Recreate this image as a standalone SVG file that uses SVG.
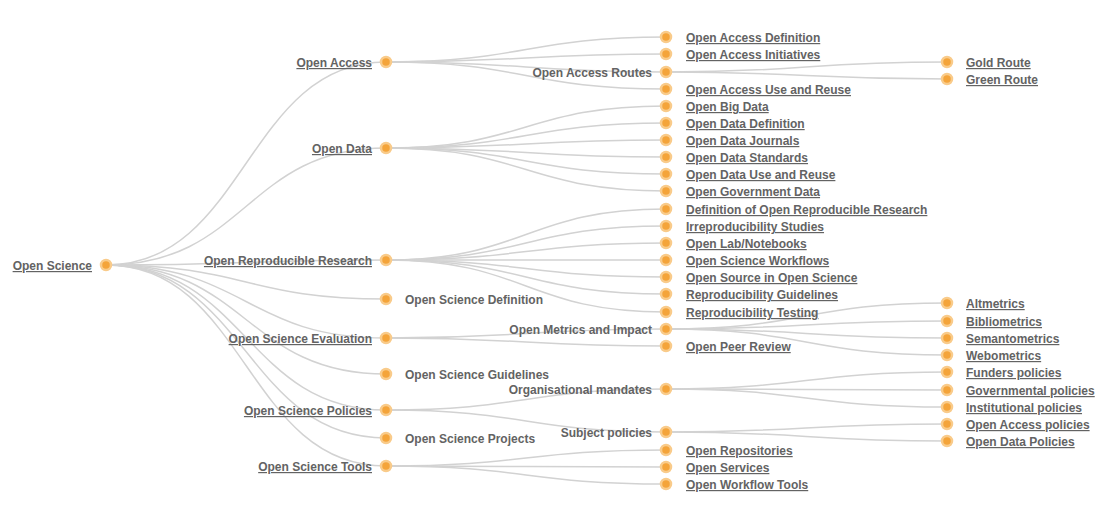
<svg xmlns="http://www.w3.org/2000/svg" width="1103" height="524" viewBox="0 0 1103 524">
<style>
.link{fill:none;stroke:#d2d2d2;stroke-width:1.5}
.node circle{fill:#f4a43a;stroke:#f9cb8a;stroke-width:2.5}
.node text{font-family:"Liberation Sans",Arial,sans-serif;font-size:12px;font-weight:bold;fill:#636363}
.l{text-anchor:end}
.u{text-decoration:underline}
</style>
<rect width="1103" height="524" fill="#ffffff"/>
<g id="connectors">
<path class="link" d="M106,265C246,265 246,62 386,62"/>
<path class="link" d="M106,265C246,265 246,148 386,148"/>
<path class="link" d="M106,265C246,265 246,260 386,260"/>
<path class="link" d="M106,265C246,265 246,299 386,299"/>
<path class="link" d="M106,265C246,265 246,338 386,338"/>
<path class="link" d="M106,265C246,265 246,374 386,374"/>
<path class="link" d="M106,265C246,265 246,410 386,410"/>
<path class="link" d="M106,265C246,265 246,438 386,438"/>
<path class="link" d="M106,265C246,265 246,466 386,466"/>
<path class="link" d="M386,62C526,62 526,37 666,37"/>
<path class="link" d="M386,62C526,62 526,54 666,54"/>
<path class="link" d="M386,62C526,62 526,72 666,72"/>
<path class="link" d="M386,62C526,62 526,89 666,89"/>
<path class="link" d="M386,148C526,148 526,106 666,106"/>
<path class="link" d="M386,148C526,148 526,123 666,123"/>
<path class="link" d="M386,148C526,148 526,140 666,140"/>
<path class="link" d="M386,148C526,148 526,157 666,157"/>
<path class="link" d="M386,148C526,148 526,174 666,174"/>
<path class="link" d="M386,148C526,148 526,191 666,191"/>
<path class="link" d="M386,260C526,260 526,209 666,209"/>
<path class="link" d="M386,260C526,260 526,226 666,226"/>
<path class="link" d="M386,260C526,260 526,243 666,243"/>
<path class="link" d="M386,260C526,260 526,260 666,260"/>
<path class="link" d="M386,260C526,260 526,277 666,277"/>
<path class="link" d="M386,260C526,260 526,294 666,294"/>
<path class="link" d="M386,260C526,260 526,312 666,312"/>
<path class="link" d="M386,338C526,338 526,329 666,329"/>
<path class="link" d="M386,338C526,338 526,346 666,346"/>
<path class="link" d="M386,410C526,410 526,389 666,389"/>
<path class="link" d="M386,410C526,410 526,432 666,432"/>
<path class="link" d="M386,466C526,466 526,450 666,450"/>
<path class="link" d="M386,466C526,466 526,467 666,467"/>
<path class="link" d="M386,466C526,466 526,484 666,484"/>
<path class="link" d="M666,72C806,72 806,62 947,62"/>
<path class="link" d="M666,72C806,72 806,79 947,79"/>
<path class="link" d="M666,329C806,329 806,303 947,303"/>
<path class="link" d="M666,329C806,329 806,321 947,321"/>
<path class="link" d="M666,329C806,329 806,338 947,338"/>
<path class="link" d="M666,329C806,329 806,355 947,355"/>
<path class="link" d="M666,389C806,389 806,372 947,372"/>
<path class="link" d="M666,389C806,389 806,390 947,390"/>
<path class="link" d="M666,389C806,389 806,407 947,407"/>
<path class="link" d="M666,432C806,432 806,424 947,424"/>
<path class="link" d="M666,432C806,432 806,441 947,441"/>
</g>
<g id="n-open-science" class="node"><circle cx="106" cy="265" r="5"/><text class="l u" x="92" y="270">Open Science</text></g>
<g id="n-open-access" class="node"><circle cx="386" cy="62" r="5"/><text class="l u" x="372" y="67">Open Access</text></g>
<g id="n-open-data" class="node"><circle cx="386" cy="148" r="5"/><text class="l u" x="372" y="153">Open Data</text></g>
<g id="n-orr" class="node"><circle cx="386" cy="260" r="5"/><text class="l u" x="372" y="265">Open Reproducible Research</text></g>
<g id="n-os-definition" class="node"><circle cx="386" cy="299" r="5"/><text x="405" y="304">Open Science Definition</text></g>
<g id="n-os-evaluation" class="node"><circle cx="386" cy="338" r="5"/><text class="l u" x="372" y="343">Open Science Evaluation</text></g>
<g id="n-os-guidelines" class="node"><circle cx="386" cy="374" r="5"/><text x="405" y="379">Open Science Guidelines</text></g>
<g id="n-os-policies" class="node"><circle cx="386" cy="410" r="5"/><text class="l u" x="372" y="415">Open Science Policies</text></g>
<g id="n-os-projects" class="node"><circle cx="386" cy="438" r="5"/><text x="405" y="443">Open Science Projects</text></g>
<g id="n-os-tools" class="node"><circle cx="386" cy="466" r="5"/><text class="l u" x="372" y="471">Open Science Tools</text></g>
<g id="n-oa-definition" class="node"><circle cx="666" cy="37" r="5"/><text class="u" x="686" y="42">Open Access Definition</text></g>
<g id="n-oa-initiatives" class="node"><circle cx="666" cy="54" r="5"/><text class="u" x="686" y="59">Open Access Initiatives</text></g>
<g id="n-oa-routes" class="node"><circle cx="666" cy="72" r="5"/><text class="l" x="652" y="77">Open Access Routes</text></g>
<g id="n-oa-reuse" class="node"><circle cx="666" cy="89" r="5"/><text class="u" x="686" y="94">Open Access Use and Reuse</text></g>
<g id="n-big-data" class="node"><circle cx="666" cy="106" r="5"/><text class="u" x="686" y="111">Open Big Data</text></g>
<g id="n-od-definition" class="node"><circle cx="666" cy="123" r="5"/><text class="u" x="686" y="128">Open Data Definition</text></g>
<g id="n-od-journals" class="node"><circle cx="666" cy="140" r="5"/><text class="u" x="686" y="145">Open Data Journals</text></g>
<g id="n-od-standards" class="node"><circle cx="666" cy="157" r="5"/><text class="u" x="686" y="162">Open Data Standards</text></g>
<g id="n-od-reuse" class="node"><circle cx="666" cy="174" r="5"/><text class="u" x="686" y="179">Open Data Use and Reuse</text></g>
<g id="n-gov-data" class="node"><circle cx="666" cy="191" r="5"/><text class="u" x="686" y="196">Open Government Data</text></g>
<g id="n-orr-definition" class="node"><circle cx="666" cy="209" r="5"/><text class="u" x="686" y="214">Definition of Open Reproducible Research</text></g>
<g id="n-irreproducibility" class="node"><circle cx="666" cy="226" r="5"/><text class="u" x="686" y="231">Irreproducibility Studies</text></g>
<g id="n-open-lab" class="node"><circle cx="666" cy="243" r="5"/><text class="u" x="686" y="248">Open Lab/Notebooks</text></g>
<g id="n-os-workflows" class="node"><circle cx="666" cy="260" r="5"/><text class="u" x="686" y="265">Open Science Workflows</text></g>
<g id="n-open-source" class="node"><circle cx="666" cy="277" r="5"/><text class="u" x="686" y="282">Open Source in Open Science</text></g>
<g id="n-repro-guidelines" class="node"><circle cx="666" cy="294" r="5"/><text class="u" x="686" y="299">Reproducibility Guidelines</text></g>
<g id="n-repro-testing" class="node"><circle cx="666" cy="312" r="5"/><text class="u" x="686" y="317">Reproducibility Testing</text></g>
<g id="n-metrics" class="node"><circle cx="666" cy="329" r="5"/><text class="l" x="652" y="334">Open Metrics and Impact</text></g>
<g id="n-peer-review" class="node"><circle cx="666" cy="346" r="5"/><text class="u" x="686" y="351">Open Peer Review</text></g>
<g id="n-org-mandates" class="node"><circle cx="666" cy="389" r="5"/><text class="l" x="652" y="394">Organisational mandates</text></g>
<g id="n-subject-policies" class="node"><circle cx="666" cy="432" r="5"/><text class="l" x="652" y="437">Subject policies</text></g>
<g id="n-repositories" class="node"><circle cx="666" cy="450" r="5"/><text class="u" x="686" y="455">Open Repositories</text></g>
<g id="n-services" class="node"><circle cx="666" cy="467" r="5"/><text class="u" x="686" y="472">Open Services</text></g>
<g id="n-workflow-tools" class="node"><circle cx="666" cy="484" r="5"/><text class="u" x="686" y="489">Open Workflow Tools</text></g>
<g id="n-gold" class="node"><circle cx="947" cy="62" r="5"/><text class="u" x="966" y="67">Gold Route</text></g>
<g id="n-green" class="node"><circle cx="947" cy="79" r="5"/><text class="u" x="966" y="84">Green Route</text></g>
<g id="n-altmetrics" class="node"><circle cx="947" cy="303" r="5"/><text class="u" x="966" y="308">Altmetrics</text></g>
<g id="n-bibliometrics" class="node"><circle cx="947" cy="321" r="5"/><text class="u" x="966" y="326">Bibliometrics</text></g>
<g id="n-semantometrics" class="node"><circle cx="947" cy="338" r="5"/><text class="u" x="966" y="343">Semantometrics</text></g>
<g id="n-webometrics" class="node"><circle cx="947" cy="355" r="5"/><text class="u" x="966" y="360">Webometrics</text></g>
<g id="n-funders" class="node"><circle cx="947" cy="372" r="5"/><text class="u" x="966" y="377">Funders policies</text></g>
<g id="n-governmental" class="node"><circle cx="947" cy="390" r="5"/><text class="u" x="966" y="395">Governmental policies</text></g>
<g id="n-institutional" class="node"><circle cx="947" cy="407" r="5"/><text class="u" x="966" y="412">Institutional policies</text></g>
<g id="n-oa-policies" class="node"><circle cx="947" cy="424" r="5"/><text class="u" x="966" y="429">Open Access policies</text></g>
<g id="n-od-policies" class="node"><circle cx="947" cy="441" r="5"/><text class="u" x="966" y="446">Open Data Policies</text></g>
</svg>
